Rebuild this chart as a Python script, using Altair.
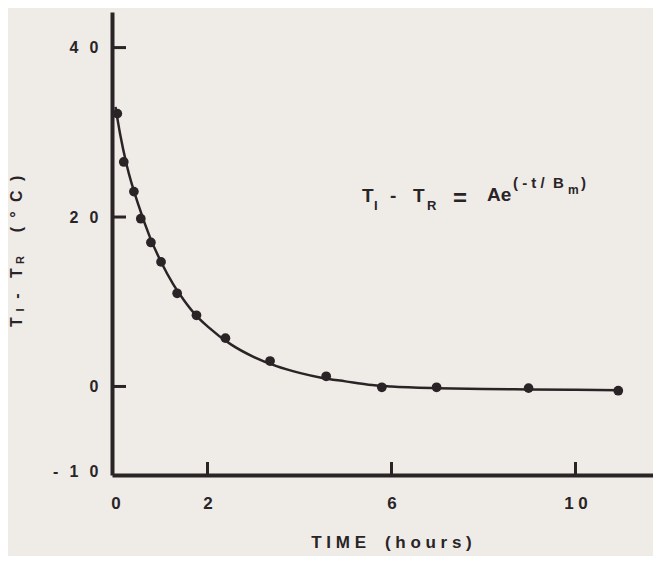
import altair as alt
import pandas as pd

# ---- data ----
TIME_H = [0.04, 0.18, 0.40, 0.55, 0.77, 0.99, 1.34, 1.76, 2.39, 3.36, 4.58, 5.79, 6.98, 8.98, 10.93]
DELTA_T = [32.2, 26.5, 23.0, 19.8, 17.0, 14.7, 11.0, 8.4, 5.7, 3.0, 1.2, -0.1, -0.1, -0.2, -0.5]

CURVE_T = [0, 0.1, 0.25, 0.5, 0.75, 1.0, 1.25, 1.5, 1.75, 2.0, 2.5, 3.0, 3.5, 4.0, 4.5, 5.0,
           5.5, 6.0, 7.0, 8.0, 9.0, 10.0, 10.95]
CURVE_Y = [33.0, 29.8, 26.0, 21.4, 17.6, 14.6, 12.1, 10.1, 8.4, 7.1, 5.0, 3.5, 2.4, 1.6, 1.0, 0.6,
           0.2, 0.0, -0.2, -0.3, -0.35, -0.4, -0.45]

X_TICKS = [0, 2, 6, 10]
X_TICK_LABELS = ["0", "2", "6", "1 0"]
Y_TICKS = [-10, 0, 20, 40]
Y_TICK_LABELS = ["-\u2002\u20091\u2002\u20090", "0", "2\u2002\u20090", "4\u2002\u20090"]
X_TICK_MARKS = [2, 6, 10]
Y_TICK_MARKS = [0, 20, 40]

INK = "#2a2427"
BG = "#efece8"
FONT = "Liberation Sans"
W, H = 541, 463
NB = "\u00a0"


def label_expr(vals, labels):
    expr = "''"
    for v, l in reversed(list(zip(vals, labels))):
        expr = f"datum.value == {v} ? '{l}' : ({expr})"
    return expr


xs = alt.Scale(domain=[-0.076, 11.685], nice=False, zero=False)
ys = alt.Scale(domain=[-10.45, 44.2], nice=False, zero=False)

pts = pd.DataFrame({"t": TIME_H, "d": DELTA_T})
curve = pd.DataFrame({"t": CURVE_T, "d": CURVE_Y})

x_title = NB.join("TIME") + NB * 4 + NB.join("(hours)")

x_axis = alt.Axis(
    values=X_TICKS, labelExpr=label_expr(X_TICKS, X_TICK_LABELS), ticks=False, grid=False,
    domainColor=INK, domainWidth=4, labelFont=FONT, labelFontSize=17, labelFontWeight="bold",
    labelColor=INK, labelPadding=20, labelFlush=False, labelOverlap=False,
    title=x_title, titleFont=FONT, titleFontSize=17, titleFontWeight="bold",
    titleColor=INK, titleX=279, titleY=67, titleBaseline="middle", titleAlign="center",
)
y_axis = alt.Axis(
    values=Y_TICKS, labelExpr=label_expr(Y_TICKS, Y_TICK_LABELS), ticks=False, grid=False,
    domainColor=INK, domainWidth=4, labelFont=FONT, labelFontSize=16, labelFontWeight="bold",
    labelColor=INK, labelPadding=14, labelFlush=False, labelOverlap=False, title="",
)

X = lambda f: alt.X(f, scale=xs, axis=x_axis)
Y = lambda f: alt.Y(f, scale=ys, axis=y_axis)

points = alt.Chart(pts).mark_circle(size=95, color=INK, opacity=1).encode(
    x=X("t:Q"), y=Y("d:Q"),
)
line = alt.Chart(curve).mark_line(color=INK, strokeWidth=2.5, interpolate="monotone").encode(
    x=X("t:Q"), y=Y("d:Q"),
)
ytick = alt.Chart(pd.DataFrame({"v": Y_TICK_MARKS})).mark_rule(color=INK, strokeWidth=3).encode(
    y=Y("v:Q"), x=alt.value(0), x2=alt.value(14)
)
xtick = alt.Chart(pd.DataFrame({"v": X_TICK_MARKS})).mark_rule(color=INK, strokeWidth=3).encode(
    x=X("v:Q"), y=alt.value(H - 13), y2=alt.value(H)
)


def txt(s, x, y, size, angle=0, align="left", baseline="alphabetic"):
    return alt.Chart(pd.DataFrame({"k": [0]})).mark_text(
        text=s, font=FONT, fontSize=size, fontWeight="bold", color=INK,
        angle=angle, align=align, baseline=baseline,
    ).encode(x=alt.value(x), y=alt.value(y))


eq = [
    txt("T", 250, 190, 19),
    txt("I", 262, 198, 13),
    txt("-", 278, 190, 19),
    txt("T", 301, 190, 19),
    txt("R", 315, 198, 13),
    txt("=", 341, 194, 24),
    txt("Ae", 375, 189, 19),
    txt("(" + NB + "-" + NB + "t" + NB + "/", 401, 176, 15),
    txt("B", 441, 176, 15),
    txt("m", 456, 182, 12),
    txt(")", 469, 176, 15),
]

ytitle = [
    txt("T", -95, 310, 16, angle=270, align="center", baseline="middle"),
    txt("I", -91, 298, 11, angle=270, align="center", baseline="middle"),
    txt("-", -95, 284, 16, angle=270, align="center", baseline="middle"),
    txt("T", -95, 261, 16, angle=270, align="center", baseline="middle"),
    txt("R", -91, 248, 11, angle=270, align="center", baseline="middle"),
    txt("(\u2002\u200a°\u2002\u200aC\u2002\u200a)", -95, 192, 16, angle=270, align="center",
        baseline="middle"),
]

chart = alt.layer(points, line, ytick, xtick, *eq, *ytitle).properties(
    width=W, height=H,
    padding={"left": 104, "top": 4, "right": 0, "bottom": 81},
    autosize=alt.AutoSizeParams(type="none"),
    background=BG,
).configure_view(stroke=None)

chart.save("out.html", embed_options={"renderer": "svg", "actions": False})
